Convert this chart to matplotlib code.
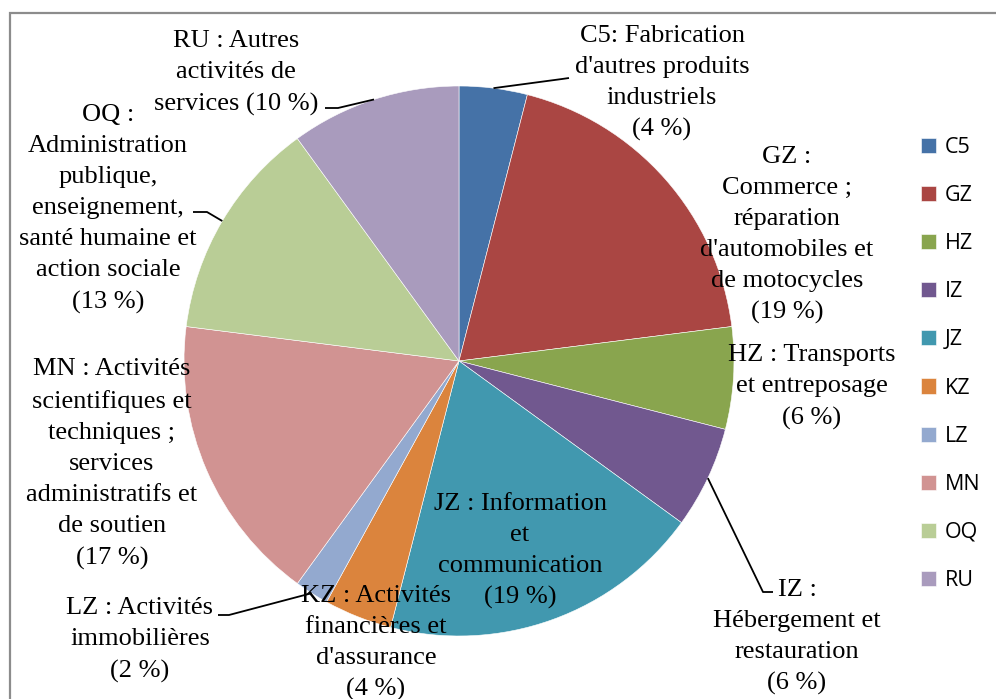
import matplotlib
matplotlib.use("Agg")
import matplotlib.pyplot as plt
import numpy as np
from matplotlib.patches import Rectangle

codes = ["C5", "GZ", "HZ", "IZ", "JZ", "KZ", "LZ", "MN", "OQ", "RU"]
values = [4, 19, 6, 6, 19, 4, 2, 17, 13, 10]
labels = [
    "C5: Fabrication\nd'autres produits\nindustriels\n(4 %)",
    "GZ :\nCommerce ;\nréparation\nd'automobiles et\nde motocycles\n(19 %)",
    "HZ : Transports\net entreposage\n(6 %)",
    "IZ :\nHébergement et\nrestauration\n(6 %)",
    "JZ : Information\net\ncommunication\n(19 %)",
    "KZ : Activités\nfinancières et\nd'assurance\n(4 %)",
    "LZ : Activités\nimmobilières\n(2 %)",
    "MN : Activités\nscientifiques et\ntechniques ;\nservices\nadministratifs et\nde soutien\n(17 %)",
    "OQ :\nAdministration\npublique,\nenseignement,\nsanté humaine et\naction sociale\n(13 %)",
    "RU : Autres\nactivités de\nservices (10 %)",
]
colors = ["#4572A7", "#AA4643", "#89A54E", "#71588F", "#4198AF",
          "#DB843D", "#93A9CF", "#D19392", "#B9CD96", "#A99BBD"]

W, H = 996, 699
fig = plt.figure(figsize=(W / 100, H / 100), dpi=100)
ax = fig.add_axes([0, 0, 1, 1])

# chart border
fig.patches.append(Rectangle((9.5 / W, -0.1), 1.2, 1 - 13 / H + 0.1,
                             transform=fig.transFigure, fill=False,
                             edgecolor="#8c8c8c", linewidth=1.6))

cx, cy, R = 459, H - 361, 275
wedges, _ = ax.pie(values, colors=colors, startangle=90, counterclock=False,
                   center=(cx, cy), radius=R, frame=True,
                   wedgeprops=dict(linewidth=0.4, edgecolor="white"))
ax.set_xlim(0, W)
ax.set_ylim(0, H)
ax.set_aspect("equal")
ax.axis("off")

# label layout (pixel positions of text block centers, image coords)
text_pos = {
    "C5": (662, 83), "GZ": (787, 235), "HZ": (812, 387), "IZ": (797, 637),
    "JZ": (520, 551), "KZ": (376, 643), "LZ": (140, 640), "MN": (112, 464),
    "OQ": (108, 209), "RU": (236, 73),
}
# leader line elbows (image coords): (elbow, end)
leaders = {
    "C5": ((562, 79), (569, 78)),
    "IZ": ((763, 592), (773, 592)),
    "LZ": ((229, 615), (218, 615)),
    "OQ": ((207, 212), (193, 212)),
    "RU": ((338, 108), (325, 108)),
}

for w, code, lab in zip(wedges, codes, labels):
    x, y = text_pos[code]
    ax.text(x, H - y, lab, ha="center", va="center", multialignment="center",
            fontsize=19, family="Liberation Serif", linespacing=1.53,
            color="black", zorder=5)
    if code in leaders:
        mid = np.deg2rad((w.theta1 + w.theta2) / 2)
        ex, ey = cx + R * np.cos(mid), cy + R * np.sin(mid)
        (bx, by), (tx, ty) = leaders[code]
        ax.plot([ex, bx, tx], [ey, H - by, H - ty], color="black",
                linewidth=1.3, zorder=4, solid_capstyle="butt")

leg = ax.legend(wedges, codes, loc="center left",
                bbox_to_anchor=(921 / W, 1 - 364 / H),
                bbox_transform=fig.transFigure, frameon=False,
                borderpad=0, borderaxespad=0,
                handlelength=0.7, handleheight=0.7, handletextpad=0.4,
                labelspacing=1.26,
                prop=dict(family="Open Sans", size=15.5))
plt.savefig("out.png", dpi=100)
